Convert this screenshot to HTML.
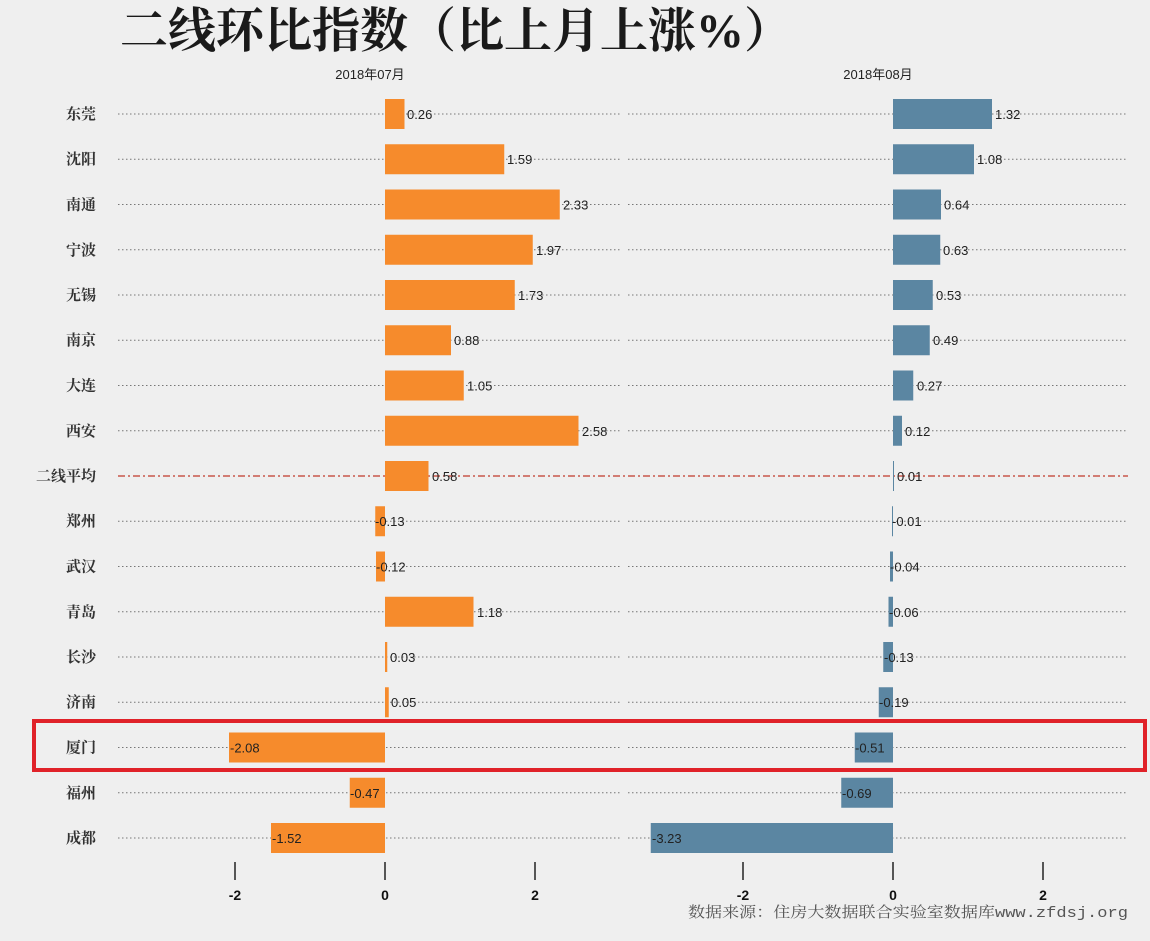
<!DOCTYPE html>
<html><head><meta charset="utf-8"><style>
html,body{margin:0;padding:0;background:#efefef;}
svg{display:block}
.c{font-family:"Liberation Serif","Noto Serif CJK SC",serif;font-size:15px;font-weight:bold;fill:#333;text-anchor:end}
.v{font-family:"Liberation Sans",sans-serif;font-size:13px;fill:#222}
.t{font-family:"Liberation Sans",sans-serif;font-size:14px;font-weight:bold;fill:#111;text-anchor:middle}
.d{stroke:#777;stroke-width:1;stroke-dasharray:1.5 2.5}
.o{fill:#f68b2c}.b{fill:#5b86a2}
</style></head><body>
<svg width="1150" height="941" viewBox="0 0 1150 941" xmlns="http://www.w3.org/2000/svg">
<rect width="1150" height="941" fill="#efefef"/>
<text x="120" y="47" font-family="'Liberation Serif','Noto Serif CJK SC',serif" font-size="48" font-weight="bold" fill="#1a1a1a" textLength="672" lengthAdjust="spacingAndGlyphs">二线环比指数（比上月上涨%）</text>
<text x="370" y="79" class="v" font-family="'Liberation Sans','Noto Sans CJK SC',sans-serif" text-anchor="middle" font-size="14">2018年07月</text>
<text x="878" y="79" class="v" font-family="'Liberation Sans','Noto Sans CJK SC',sans-serif" text-anchor="middle" font-size="14">2018年08月</text>
<g>
<line class="d" x1="118" x2="620" y1="114" y2="114"/><line class="d" x1="628" x2="1128" y1="114" y2="114"/>
<line class="d" x1="118" x2="620" y1="159.25" y2="159.25"/><line class="d" x1="628" x2="1128" y1="159.25" y2="159.25"/>
<line class="d" x1="118" x2="620" y1="204.5" y2="204.5"/><line class="d" x1="628" x2="1128" y1="204.5" y2="204.5"/>
<line class="d" x1="118" x2="620" y1="249.75" y2="249.75"/><line class="d" x1="628" x2="1128" y1="249.75" y2="249.75"/>
<line class="d" x1="118" x2="620" y1="295" y2="295"/><line class="d" x1="628" x2="1128" y1="295" y2="295"/>
<line class="d" x1="118" x2="620" y1="340.25" y2="340.25"/><line class="d" x1="628" x2="1128" y1="340.25" y2="340.25"/>
<line class="d" x1="118" x2="620" y1="385.5" y2="385.5"/><line class="d" x1="628" x2="1128" y1="385.5" y2="385.5"/>
<line class="d" x1="118" x2="620" y1="430.75" y2="430.75"/><line class="d" x1="628" x2="1128" y1="430.75" y2="430.75"/>
<line x1="118" x2="1128" y1="476" y2="476" stroke="#c0392b" stroke-width="1.2" stroke-dasharray="7 3 2 3"/>
<line class="d" x1="118" x2="620" y1="521.25" y2="521.25"/><line class="d" x1="628" x2="1128" y1="521.25" y2="521.25"/>
<line class="d" x1="118" x2="620" y1="566.5" y2="566.5"/><line class="d" x1="628" x2="1128" y1="566.5" y2="566.5"/>
<line class="d" x1="118" x2="620" y1="611.75" y2="611.75"/><line class="d" x1="628" x2="1128" y1="611.75" y2="611.75"/>
<line class="d" x1="118" x2="620" y1="657" y2="657"/><line class="d" x1="628" x2="1128" y1="657" y2="657"/>
<line class="d" x1="118" x2="620" y1="702.25" y2="702.25"/><line class="d" x1="628" x2="1128" y1="702.25" y2="702.25"/>
<line class="d" x1="118" x2="620" y1="747.5" y2="747.5"/><line class="d" x1="628" x2="1128" y1="747.5" y2="747.5"/>
<line class="d" x1="118" x2="620" y1="792.75" y2="792.75"/><line class="d" x1="628" x2="1128" y1="792.75" y2="792.75"/>
<line class="d" x1="118" x2="620" y1="838" y2="838"/><line class="d" x1="628" x2="1128" y1="838" y2="838"/>
</g>
<g>
<text class="c" x="96" y="119">东莞</text>
<text class="c" x="96" y="164">沈阳</text>
<text class="c" x="96" y="209.5">南通</text>
<text class="c" x="96" y="255">宁波</text>
<text class="c" x="96" y="300">无锡</text>
<text class="c" x="96" y="345">南京</text>
<text class="c" x="96" y="390.5">大连</text>
<text class="c" x="96" y="436">西安</text>
<text class="c" x="96" y="481">二线平均</text>
<text class="c" x="96" y="526">郑州</text>
<text class="c" x="96" y="571.5">武汉</text>
<text class="c" x="96" y="617">青岛</text>
<text class="c" x="96" y="662">长沙</text>
<text class="c" x="96" y="707">济南</text>
<text class="c" x="96" y="752.5">厦门</text>
<text class="c" x="96" y="798">福州</text>
<text class="c" x="96" y="843">成都</text>
</g>
<g class="o">
<rect x="385" y="99" width="19.5" height="30"/>
<rect x="385" y="144.25" width="119.25" height="30"/>
<rect x="385" y="189.5" width="174.75" height="30"/>
<rect x="385" y="234.75" width="147.75" height="30"/>
<rect x="385" y="280" width="129.75" height="30"/>
<rect x="385" y="325.25" width="66" height="30"/>
<rect x="385" y="370.5" width="78.75" height="30"/>
<rect x="385" y="415.75" width="193.5" height="30"/>
<rect x="385" y="461" width="43.5" height="30"/>
<rect x="375.25" y="506.25" width="9.75" height="30"/>
<rect x="376" y="551.5" width="9" height="30"/>
<rect x="385" y="596.75" width="88.5" height="30"/>
<rect x="385" y="642" width="2.25" height="30"/>
<rect x="385" y="687.25" width="3.75" height="30"/>
<rect x="229" y="732.5" width="156" height="30"/>
<rect x="349.75" y="777.75" width="35.25" height="30"/>
<rect x="271" y="823" width="114" height="30"/>
</g>
<g class="b">
<rect x="893" y="99" width="99" height="30"/>
<rect x="893" y="144.25" width="81" height="30"/>
<rect x="893" y="189.5" width="48" height="30"/>
<rect x="893" y="234.75" width="47.25" height="30"/>
<rect x="893" y="280" width="39.75" height="30"/>
<rect x="893" y="325.25" width="36.75" height="30"/>
<rect x="893" y="370.5" width="20.25" height="30"/>
<rect x="893" y="415.75" width="9" height="30"/>
<rect x="893" y="461" width="1" height="30"/>
<rect x="892" y="506.25" width="1" height="30"/>
<rect x="890" y="551.5" width="3" height="30"/>
<rect x="888.5" y="596.75" width="4.5" height="30"/>
<rect x="883.25" y="642" width="9.75" height="30"/>
<rect x="878.75" y="687.25" width="14.25" height="30"/>
<rect x="854.75" y="732.5" width="38.25" height="30"/>
<rect x="841.25" y="777.75" width="51.75" height="30"/>
<rect x="650.75" y="823" width="242.25" height="30"/>
</g>
<g class="v">
<text x="407" y="119">0.26</text>
<text x="507" y="164">1.59</text>
<text x="563" y="209.5">2.33</text>
<text x="536" y="255">1.97</text>
<text x="518" y="300">1.73</text>
<text x="454" y="345">0.88</text>
<text x="467" y="390.5">1.05</text>
<text x="582" y="436">2.58</text>
<text x="432" y="481">0.58</text>
<text x="375" y="526">-0.13</text>
<text x="376" y="571.5">-0.12</text>
<text x="477" y="617">1.18</text>
<text x="390" y="662">0.03</text>
<text x="391" y="707">0.05</text>
<text x="230" y="752.5">-2.08</text>
<text x="350" y="798">-0.47</text>
<text x="272" y="843">-1.52</text>
<text x="995" y="119">1.32</text>
<text x="977" y="164">1.08</text>
<text x="944" y="209.5">0.64</text>
<text x="943" y="255">0.63</text>
<text x="936" y="300">0.53</text>
<text x="933" y="345">0.49</text>
<text x="917" y="390.5">0.27</text>
<text x="905" y="436">0.12</text>
<text x="897" y="481">0.01</text>
<text x="892" y="526">-0.01</text>
<text x="890" y="571.5">-0.04</text>
<text x="889" y="617">-0.06</text>
<text x="884" y="662">-0.13</text>
<text x="879" y="707">-0.19</text>
<text x="855" y="752.5">-0.51</text>
<text x="842" y="798">-0.69</text>
<text x="652" y="843">-3.23</text>
</g>
<g stroke="#222" stroke-width="1.5">
<line x1="235" x2="235" y1="862" y2="880"/><line x1="385" x2="385" y1="862" y2="880"/><line x1="535" x2="535" y1="862" y2="880"/>
<line x1="743" x2="743" y1="862" y2="880"/><line x1="893" x2="893" y1="862" y2="880"/><line x1="1043" x2="1043" y1="862" y2="880"/>
</g>
<text class="t" x="235" y="900">-2</text><text class="t" x="385" y="900">0</text><text class="t" x="535" y="900">2</text>
<text class="t" x="743" y="900">-2</text><text class="t" x="893" y="900">0</text><text class="t" x="1043" y="900">2</text>
<text x="688" y="917" font-family="'Liberation Mono','Noto Serif CJK SC',monospace" font-size="15" fill="#555" textLength="440" lengthAdjust="spacingAndGlyphs">数据来源：住房大数据联合实验室数据库www.zfdsj.org</text>
<rect x="34" y="721" width="1111" height="49" fill="none" stroke="#e02229" stroke-width="4"/>
</svg>
</body></html>
